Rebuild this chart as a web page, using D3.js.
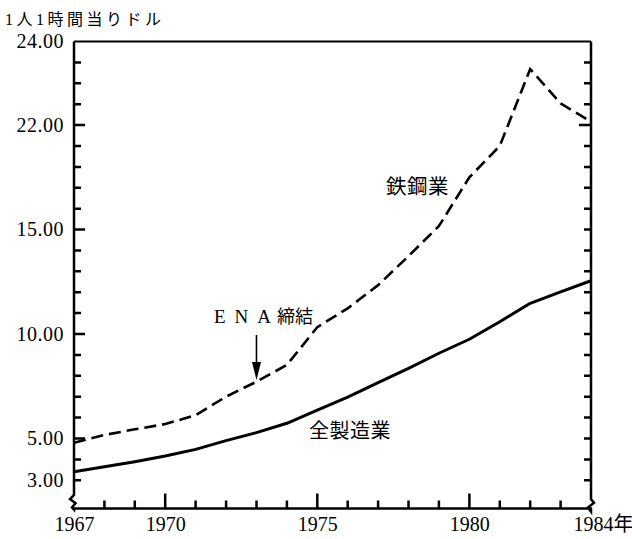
<!DOCTYPE html>
<html><head><meta charset="utf-8">
<script src="https://cdn.jsdelivr.net/npm/d3@7"></script>
<style>
html,body{margin:0;padding:0;background:#fff;}
svg{display:block;}
</style></head>
<body>
<svg id="chart" width="632" height="539"></svg>
<script>
// ---- data ----
const years = [1967,1968,1969,1970,1971,1972,1973,1974,1975,1976,1977,1978,1979,1980,1981,1982,1983,1984];
const steel = [4.80,5.17,5.44,5.69,6.12,7.00,7.72,8.52,10.33,11.23,12.34,13.73,15.17,17.50,19.00,22.68,21.04,20.16];
const manufacturing = [3.41,3.65,3.89,4.16,4.48,4.90,5.28,5.73,6.36,6.98,7.67,8.36,9.08,9.75,10.59,11.47,12.02,12.55];
const yTickValues = [3,5,10,15,20,24];
const yTickLabels = ["3.00","5.00","10.00","15.00","22.00","24.00"];
const yMinorTicks = [3,4,5,6,7,8,9,10,11,12,13,14,15,16,17,18,19,20,21,22,23];
const yMajorTicks = [5,10,15,20];
const xLabelYears = [1967,1970,1975,1980,1984];
const xLabels = ["1967","1970","1975","1980","1984年"];
const xMajorYears = [1970,1975,1980];
const xMinorYears = [1968,1969,1971,1972,1973,1974,1976,1977,1978,1979,1981,1982,1983];
const yTitle = "1人1時間当りドル";
const steelLabel = "鉄鋼業";
const mfgLabel = "全製造業";
const enaLatin = "ENA";
const enaJa = "締結";
const enaYear = 1973;

// ---- layout ----
const pL = 74, pR = 591, pT = 41.5, pB = 508.5;
const xs = d3.scaleLinear().domain([1967,1984]).range([pL, pR]);
const ys = d3.scaleLinear().domain([3,24]).range([480.3, pT]);

const svg = d3.select("#chart");
svg.append("rect").attr("width",632).attr("height",539).attr("fill","#fff");

const serif = "'Liberation Serif','Noto Sans CJK JP',serif";
const cjk = "'Noto Sans CJK JP','Noto Sans CJK SC',sans-serif";

// tick sub-paths built from the scales
const hT = (vals, x0, len) => vals.map(v => ` M${x0},${ys(v).toFixed(1)} L${x0+len},${ys(v).toFixed(1)}`).join("");
const vT = (vals, len) => vals.map(v => ` M${xs(v).toFixed(1)},${pB} L${xs(v).toFixed(1)},${pB-len}`).join("");

const frame = svg.append("g").attr("fill","none").attr("stroke","#000").attr("stroke-linejoin","miter");
// top
frame.append("path").attr("stroke-width",2.2).attr("d",`M${pL},${pT} L${pR},${pT}`);
// left axis with break + ticks
frame.append("path").attr("stroke-width",2.5)
  .attr("d",`M${pL},${pT} V${ys(2.3)} L${pL-4},${ys(2.1)} L${pL+1.5},${ys(1.9)} L${pL-2},${ys(1.7)} L${pL},${ys(1.6)} V${pB}`
    + hT(yMinorTicks, pL, 7) + hT(yMajorTicks, pL, 11));
// right axis with break + ticks
frame.append("path").attr("stroke-width",2.5)
  .attr("d",`M${pR},${pT} V${ys(2.1)} L${pR+3},${ys(1.92)} L${pR-3},${ys(1.7)} L${pR},${ys(1.5)} V${pB}`
    + hT(yMinorTicks, pR, -7) + hT([20], pR, -12));
// bottom axis + ticks
frame.append("path").attr("stroke-width",2.5)
  .attr("d",`M${pL-1},${pB} L${pR+1},${pB}` + vT(xMinorYears, 8) + vT(xMajorYears, 15));

// left labels
svg.append("g").attr("transform",`translate(${pL},0)`)
  .call(d3.axisLeft(ys).tickValues(yTickValues).tickSize(0).tickPadding(10).tickFormat((d,i)=>yTickLabels[i]))
  .call(g=>{g.select(".domain").remove();
    g.selectAll("text").attr("font-family",serif).attr("font-size",20).attr("fill","#000").attr("letter-spacing","0.5px");});
// bottom labels
svg.append("g").attr("transform",`translate(0,${pB})`)
  .call(d3.axisBottom(xs).tickValues(xLabelYears).tickSize(0).tickPadding(8).tickFormat((d,i)=>xLabels[i]))
  .call(g=>{g.select(".domain").remove();
    g.selectAll("text").attr("font-family",serif).attr("font-size",20).attr("fill","#000")
      .each(function(d){ if(d===1984){ d3.select(this).attr("text-anchor","start").attr("x",-18);} });});

// lines
const lineGen = d3.line().x((d,i)=>xs(years[i])).y(d=>ys(d));
svg.append("path").datum(manufacturing).attr("d",lineGen)
  .attr("fill","none").attr("stroke","#000").attr("stroke-width",3).attr("stroke-linejoin","round");
svg.append("path").datum(steel).attr("d",lineGen)
  .attr("fill","none").attr("stroke","#000").attr("stroke-width",2.6).attr("stroke-dasharray","12,6");

// labels
svg.append("text").attr("x",5).attr("y",25).attr("font-family",serif).attr("font-size",16)
  .attr("letter-spacing","3.5px").attr("fill","#000").text(yTitle);
svg.append("text").attr("x",386).attr("y",194).attr("font-family",cjk).attr("font-size",20.5)
  .attr("letter-spacing","0.5px").attr("fill","#000").text(steelLabel);
svg.append("text").attr("x",309).attr("y",438).attr("font-family",cjk).attr("font-size",20)
  .attr("letter-spacing","0.5px").attr("fill","#000").text(mfgLabel);
const ena = svg.append("text").attr("x",214).attr("y",323).attr("fill","#000");
ena.append("tspan").attr("font-family","'Liberation Serif',serif").attr("font-size",19)
  .attr("letter-spacing","9px").text(enaLatin);
ena.append("tspan").attr("font-family",cjk).attr("font-size",18).attr("dx",-3).text(enaJa);

// arrow
const ax = xs(enaYear);
svg.append("line").attr("x1",ax).attr("x2",ax).attr("y1",335).attr("y2",366)
  .attr("stroke","#000").attr("stroke-width",1.6);
svg.append("path").attr("d",`M${ax-4.5},${362} L${ax+4.5},${362} L${ax},${380} Z`).attr("fill","#000");
</script>
</body></html>
